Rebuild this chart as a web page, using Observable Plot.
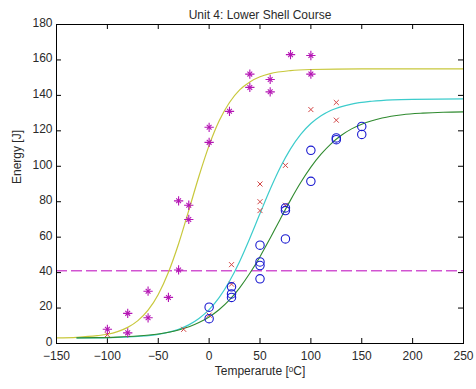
<!DOCTYPE html>
<html>
<head>
<meta charset="utf-8">
<script src="https://cdn.jsdelivr.net/npm/d3@7"></script>
<script src="https://cdn.jsdelivr.net/npm/@observablehq/plot@0.6"></script>
<style>
  html, body { margin: 0; padding: 0; background: #fff; }
  svg { display: block; }
</style>
</head>
<body>
<div id="chart"></div>
<script>
const titleText = "Unit 4: Lower Shell Course";
const xLabel = "Temperarute [ᵒC]";
const yLabel = "Energy [J]";
const xTicks = [-150, -100, -50, 0, 50, 100, 150, 200, 250];
const yTicks = [0, 20, 40, 60, 80, 100, 120, 140, 160, 180];

// magenta stars
const starT = [-100, -80, -80, -60, -60, -40, -30, -30, -20, -20, 0, 0, 20, 40, 40, 60, 60, 80, 100, 100];
const starE = [8, 17, 6, 29.5, 14.5, 26, 80.5, 41.5, 78, 70, 122, 113.5, 131, 152, 144.5, 149, 142, 163, 162.5, 152];

// red crosses
const crossT = [-100, -25, 0, 22, 22, 50, 50, 50, 75, 75, 100, 125, 125];
const crossE = [5, 8, 16, 44.5, 33.5, 90, 80, 75, 100.5, 78, 132, 136, 126];

// blue circles
const circleT = [0, 0, 22, 22, 22, 50, 50, 50, 50, 75, 75, 75, 100, 100, 125, 125, 150, 150];
const circleE = [20.5, 14, 32, 28, 26, 55.5, 46, 44, 36.5, 76.5, 75, 59, 109, 91.5, 116, 115, 122.5, 118];

// fitted curves
const yellowT = [-150, -130, -110, -100, -90, -80, -70, -60, -50, -40, -30, -20, -10, 0, 10, 20, 30, 40, 50, 60, 80, 100, 150, 200, 250];
const yellowE = [3.2, 3.5, 4.4, 5.2, 6.7, 9.1, 12.9, 18.8, 27.7, 40.2, 56.3, 75.1, 94.4, 111.8, 125.8, 136.0, 143.1, 147.6, 150.5, 152.3, 154.0, 154.6, 155, 155, 155];
const cyanT = [-130, -110, -90, -70, -50, -30, -20, -10, 0, 10, 20, 30, 40, 50, 60, 70, 80, 90, 100, 110, 120, 140, 160, 180, 200, 250];
const cyanE = [3.1, 3.2, 3.4, 4.0, 5.2, 8.0, 10.5, 14.1, 19.1, 26.0, 35.1, 46.3, 59.4, 73.3, 87.0, 99.4, 109.8, 118.0, 124.1, 128.5, 131.6, 135.1, 136.7, 137.5, 137.8, 138];
const greenT = [-130, -110, -90, -70, -50, -30, -10, 0, 10, 20, 30, 40, 50, 60, 70, 80, 90, 100, 110, 120, 130, 140, 150, 170, 190, 210, 230, 250];
const greenE = [3.2, 3.3, 3.6, 4.2, 5.4, 7.6, 11.8, 15.0, 19.2, 24.6, 31.4, 39.6, 49.0, 59.4, 70.3, 80.9, 90.8, 99.5, 106.8, 112.8, 117.5, 121.1, 123.7, 127.2, 129.1, 130.0, 130.5, 130.7];

const thresholdE = [41];

const zip = (xs, ys) => xs.map((x, i) => ({x, y: ys[i]}));
const stars = zip(starT, starE);
const crosses = zip(crossT, crossE);
const circles = zip(circleT, circleE);
const yellow = zip(yellowT, yellowE);
const cyan = zip(cyanT, cyanE);
const green = zip(greenT, greenE);

const W = 476, H = 389;
const mL = 56, mR = 13, mT = 24, mB = 46;
const frameH = H - mT - mB, frameW = W - mL - mR;
const tickLen = 5;

const magenta = "#b414b4";
const textColor = "#2a2a2a";
const chart = Plot.plot({
  width: W,
  height: H,
  marginLeft: mL,
  marginRight: mR,
  marginTop: mT,
  marginBottom: mB,
  style: {fontFamily: "'Liberation Sans', Arial, sans-serif", fontSize: "12px", color: textColor, background: "#fff"},
  x: {domain: [-150, 250]},
  y: {domain: [0, 180]},
  marks: [
    Plot.axisX({ticks: xTicks, tickSize: 0, tickPadding: 8, label: null, fontSize: 12}),
    Plot.axisY({ticks: yTicks, tickSize: 0, tickPadding: 4, label: null, fontSize: 12, dy: -1.5}),
    // inward ticks on all four sides
    Plot.tickX(xTicks, {x: d => d, insetTop: frameH - tickLen, stroke: "#000"}),
    Plot.tickX(xTicks, {x: d => d, insetBottom: frameH - tickLen, stroke: "#000"}),
    Plot.tickY(yTicks, {y: d => d, insetRight: frameW - tickLen, stroke: "#000"}),
    Plot.tickY(yTicks, {y: d => d, insetLeft: frameW - tickLen, stroke: "#000"}),
    Plot.ruleY(thresholdE, {stroke: "#bb00bb", strokeWidth: 1, strokeDasharray: "11,4"}),
    Plot.line(yellow, {x: "x", y: "y", stroke: "#c8c83c", strokeWidth: 1.2, curve: "monotone-x"}),
    Plot.line(cyan, {x: "x", y: "y", stroke: "#3ccccc", strokeWidth: 1.2, curve: "monotone-x"}),
    Plot.line(green, {x: "x", y: "y", stroke: "#2f8a2f", strokeWidth: 1.1, curve: "monotone-x"}),
    Plot.dot(crosses, {x: "x", y: "y", symbol: "times", r: 2.4, stroke: "#d24646", strokeWidth: 1}),
    Plot.dot(circles, {x: "x", y: "y", symbol: "circle", r: 4.2, stroke: "#1a1ad0", fill: "none", strokeWidth: 1.1}),
    Plot.dot(stars, {x: "x", y: "y", symbol: "plus", r: 3.1, stroke: magenta, strokeWidth: 1.1}),
    Plot.dot(stars, {x: "x", y: "y", symbol: "times", r: 2.3, stroke: magenta, strokeWidth: 1.1}),
    Plot.frame({stroke: "#000"}),
    Plot.text([titleText], {frameAnchor: "top", dy: -14, fontSize: 12, fill: textColor}),
    Plot.text([xLabel], {frameAnchor: "bottom", dy: 31, fontSize: 12, fill: textColor}),
    Plot.text([yLabel], {frameAnchor: "left", dx: -39, rotate: -90, fontSize: 12, fill: textColor})
  ]
});
document.getElementById("chart").appendChild(chart);
</script>
</body>
</html>
